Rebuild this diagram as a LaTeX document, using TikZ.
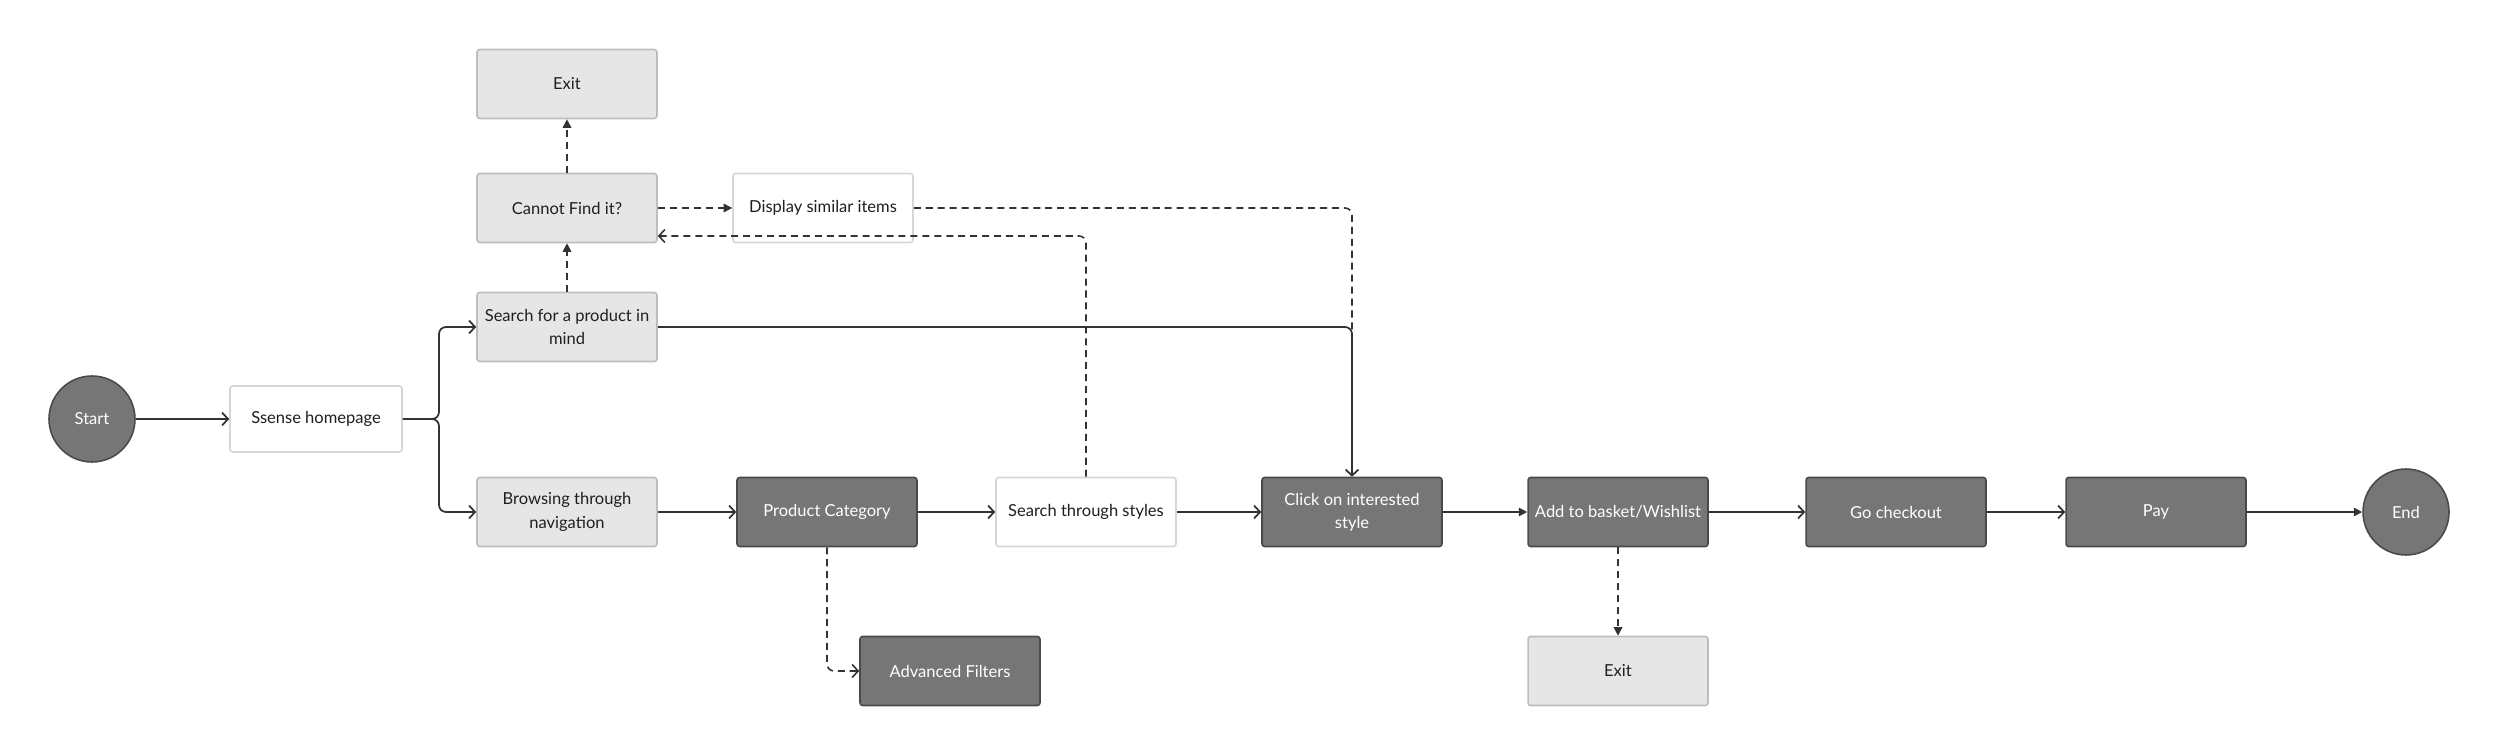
\documentclass[tikz,border=0pt]{standalone}
\usepackage{fontspec}
\setmainfont{Lato}
\usepackage{xcolor}
\usetikzlibrary{arrows.meta}
\definecolor{ssDark}{HTML}{767676}
\definecolor{ssDarkLine}{HTML}{4A4A4A}
\definecolor{ssLight}{HTML}{E6E6E6}
\definecolor{ssLightLine}{HTML}{BDBDBD}
\definecolor{ssPaleLine}{HTML}{D6D6D6}
\definecolor{ssInk}{HTML}{1F1F1F}
\definecolor{ssWire}{HTML}{333333}

\begin{document}
\begin{tikzpicture}[
  x=0.02cm, y=-0.02cm,
  font=\fontsize{9.4}{13.2}\selectfont,
  box/.style={rectangle, rounded corners=1.5pt, line width=0.9pt, align=center,
              minimum width=3.6cm, minimum height=1.38cm, inner sep=2pt},
  dark/.style={box, draw=ssDarkLine, fill=ssDark, text=white},
  light/.style={box, draw=ssLightLine, fill=ssLight, text=ssInk},
  pale/.style={box, draw=ssPaleLine, fill=white, text=ssInk},
  term/.style={circle, draw=ssDarkLine, line width=0.9pt, fill=ssDark, text=white,
               minimum size=1.72cm, inner sep=0pt},
  flow/.style={-{Straight Barb[length=1.2mm, width=2.6mm]}, line width=1pt, draw=ssWire,
               rounded corners=4pt},
  push/.style={-{Triangle[length=1.7mm, width=1.7mm]}, line width=1pt, draw=ssWire},
  maybe/.style={line width=0.9pt, draw=ssWire, dash pattern=on 4pt off 2.8pt,
                rounded corners=4pt},
]
\useasboundingbox (0,0) rectangle (2500,756);

% ── Entry and the two ways in ────────────────────────────────────────────────
\node[term]  (start)  at (92,419)  {Start};
\node[pale, minimum width=3.44cm, minimum height=1.32cm] (home) at (316,419) {Ssense homepage};
\node[light] (search) at (567,327) {Search for a product in\\mind};
\node[light] (browse) at (567,512) {Browsing through\\navigation};

% ── Search branch (upper) ────────────────────────────────────────────────────
\node[light] (cannot)  at (567,208)   {Cannot Find it?};
\node[light] (exitup)  at (567,84)    {Exit};
\node[pale]  (similar) at (823,208)   {Display similar items};

% ── Main row ─────────────────────────────────────────────────────────────────
\node[dark]  (category) at (827,512)  {Product Category};
\node[pale]  (styles)   at (1086,512) {Search through styles};
\node[dark]  (click)    at (1352,512) {Click on interested\\style};
\node[dark]  (basket)   at (1618,512) {Add to basket/Wishlist};
\node[dark]  (checkout) at (1896,512) {Go checkout};
\node[dark]  (pay)      at (2156,512) {Pay};
\node[term]  (end)      at (2406,512) {End};

% ── Side exits (lower) ───────────────────────────────────────────────────────
\node[dark]  (filters)  at (950,671)  {Advanced Filters};
\node[light] (exitdown) at (1618,671) {Exit};

% ── Connectors ───────────────────────────────────────────────────────────────
\coordinate (split) at (439,419);
\draw[flow] (start) -- (home);
\draw[flow] (home.east) -- (split) |- (search.west);
\draw[flow] (home.east) -- (split) |- (browse.west);
\draw[flow] (browse) -- (category);
\draw[flow] (category) -- (styles);
\draw[flow] (styles) -- (click);
\draw[push] (click) -- (basket);
\draw[flow] (basket) -- (checkout);
\draw[flow] (checkout) -- (pay);
\draw[push] (pay) -- (end);
\draw[flow] (search.east) -| (click.north);

% dashed side paths
\draw[maybe, -{Triangle[length=1.7mm, width=1.7mm]}] (search) -- (cannot);
\draw[maybe, -{Triangle[length=1.7mm, width=1.7mm]}] (cannot) -- (exitup);
\draw[maybe, -{Triangle[length=1.7mm, width=1.7mm]}] (cannot) -- (similar);
\draw[maybe] (similar.east) -| (click.north);
\draw[maybe, -{Straight Barb[length=1.2mm, width=2.6mm]}] (styles.north) |- ([yshift=-0.56cm]cannot.east);
\draw[maybe, -{Straight Barb[length=1.2mm, width=2.6mm]}] (category.south) |- (filters.west);
\draw[maybe, -{Triangle[length=1.7mm, width=1.7mm]}] (basket) -- (exitdown);

\end{tikzpicture}
\end{document}
